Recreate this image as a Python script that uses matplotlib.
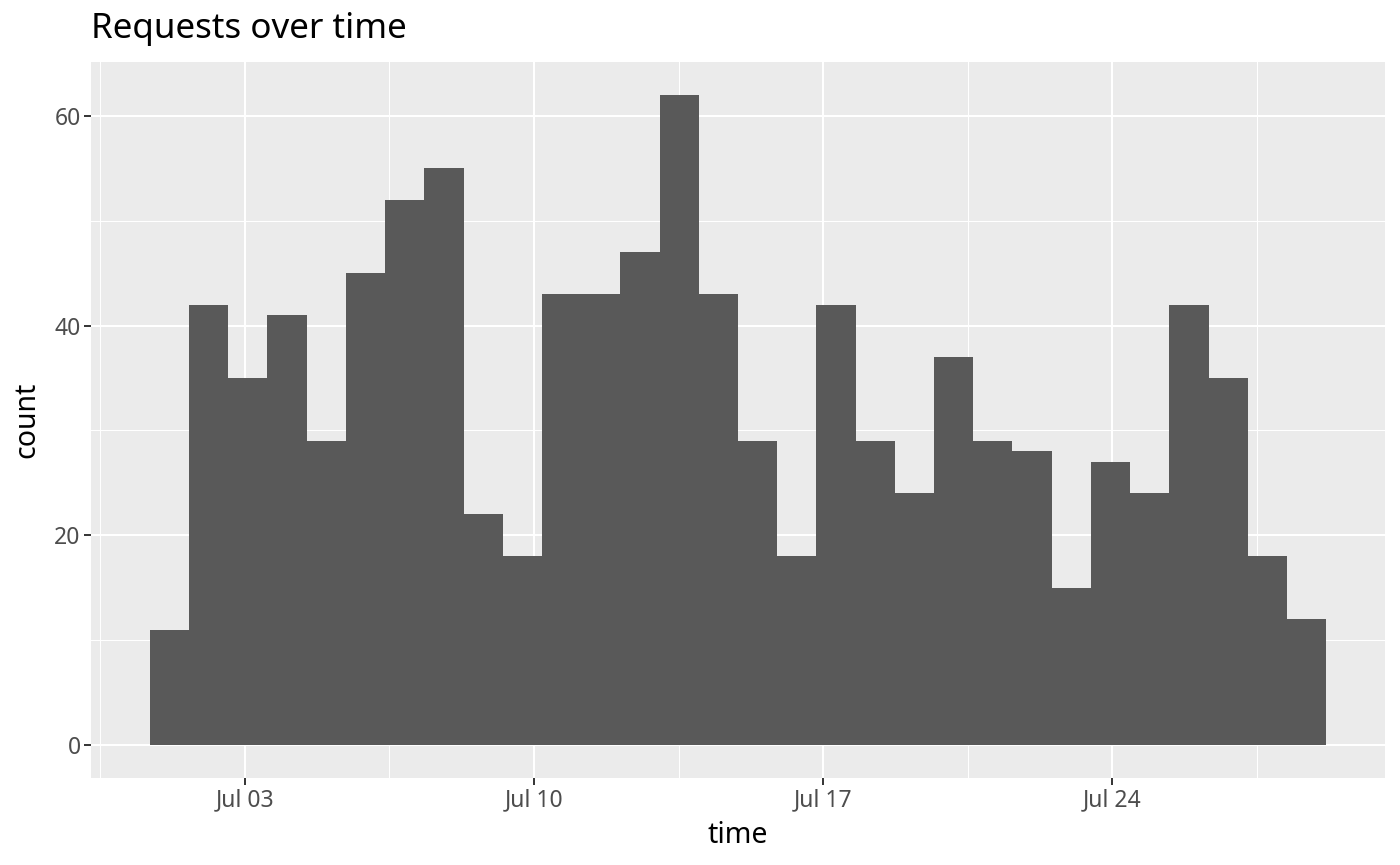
import numpy as np
import matplotlib
matplotlib.use("Agg")
import matplotlib.pyplot as plt
import matplotlib.dates as mdates
from datetime import datetime

plt.rcParams['font.family'] = ['Noto Sans', 'DejaVu Sans']

# histogram counts (30 bins)
counts = [11, 42, 35, 41, 29, 45, 52, 55, 22, 18,
          43, 43, 47, 62, 43, 29, 18, 42, 29, 24,
          37, 29, 28, 15, 27, 24, 42, 35, 18, 12]
bin_start = datetime(2018, 6, 30, 16, 54)
bin_width_days = 0.949
major_dates = [datetime(2018, 7, 3), datetime(2018, 7, 10),
               datetime(2018, 7, 17), datetime(2018, 7, 24)]
major_labels = ["Jul 03", "Jul 10", "Jul 17", "Jul 24"]
y_major = [0, 20, 40, 60]
y_minor = [10, 30, 50]

start = mdates.date2num(bin_start)
edges = start + bin_width_days * np.arange(len(counts) + 1)

fig = plt.figure(figsize=(14, 8.65), dpi=100)
fig.subplots_adjust(left=91/1400, right=1385/1400, top=1-62/865, bottom=1-778/865)
ax = fig.add_subplot(111)
ax.set_facecolor("#EBEBEB")

ax.bar(edges[:-1], counts, width=bin_width_days, align='edge',
       color="#595959", linewidth=0, zorder=3)

# ggplot-like 5% expansion
span = edges[-1] - edges[0]
ax.set_xlim(edges[0] - 0.05 * span, edges[-1] + 0.05 * span)
ymax = max(counts)
ax.set_ylim(-0.05 * ymax, ymax * 1.05)

maj = mdates.date2num(major_dates)
step = maj[1] - maj[0]
minor = np.arange(maj[0] - step / 2, maj[-1] + step, step)
ax.set_xticks(maj)
ax.set_xticklabels(major_labels)
ax.set_xticks(minor, minor=True)
ax.set_yticks(y_major)
ax.set_yticks(y_minor, minor=True)

ax.grid(which='major', color='white', linewidth=1.5, zorder=1)
ax.grid(which='minor', color='white', linewidth=0.75, zorder=1)
ax.set_axisbelow(True)
for s in ax.spines.values():
    s.set_visible(False)

ax.tick_params(which='major', length=5, width=1.4, color='#333333',
               labelcolor='#4D4D4D', labelsize=16.5, pad=2.5)
ax.tick_params(which='minor', length=0)

ax.set_xlabel("time", fontsize=20.5, color='black', labelpad=6)
ax.set_ylabel("count", fontsize=20.5, color='black', labelpad=9)
fig.text(91/1400, 1-29/865, "Requests over time", fontsize=25.2,
         ha='left', va='center', color='black')

fig.savefig("out.png", dpi=100)
